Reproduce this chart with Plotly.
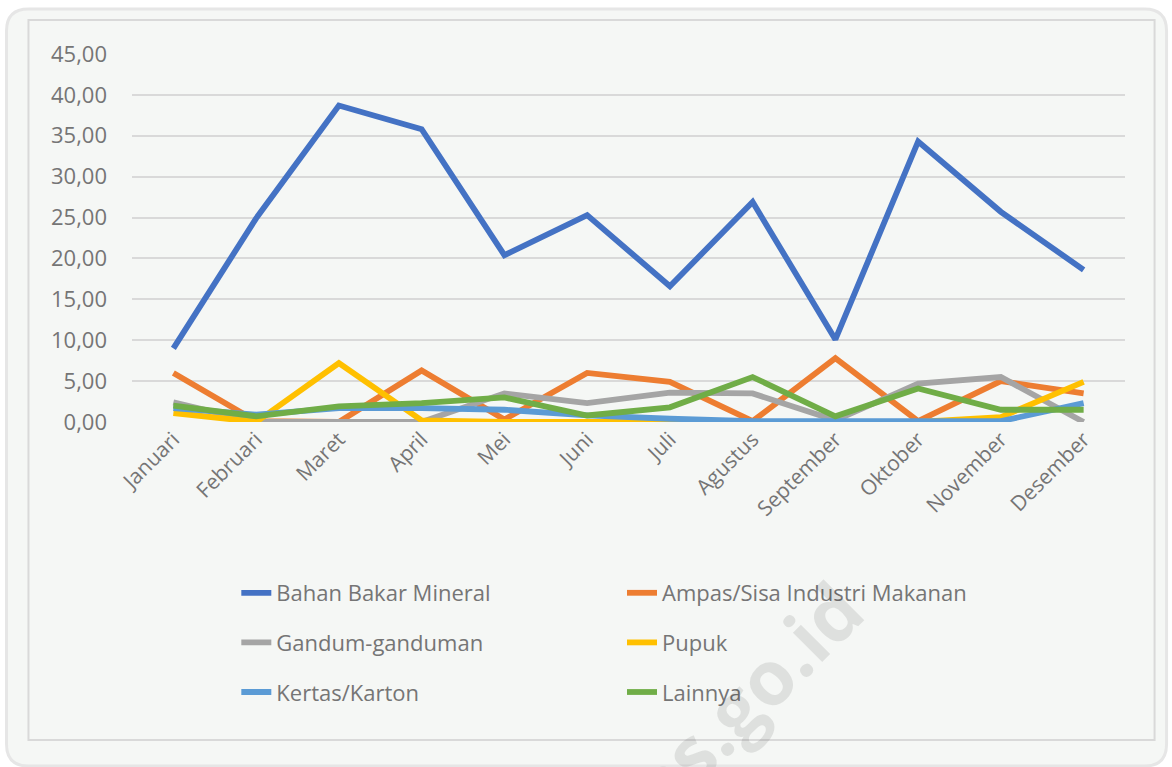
import plotly.graph_objects as go

months = ["Januari", "Februari", "Maret", "April", "Mei", "Juni", "Juli",
          "Agustus", "September", "Oktober", "November", "Desember"]
bahan_bakar = [9.0, 24.9, 38.7, 35.8, 20.4, 25.3, 16.6, 26.9, 10.1, 34.3, 25.7, 18.6]
ampas = [6.0, 0.1, 0.0, 6.3, 0.3, 6.0, 4.9, 0.1, 7.8, 0.1, 5.0, 3.5]
gandum = [2.4, 0.0, 0.0, 0.0, 3.5, 2.3, 3.6, 3.5, 0.2, 4.7, 5.5, 0.0]
pupuk = [1.1, 0.0, 7.2, 0.2, 0.0, 0.0, 0.0, 0.0, 0.0, 0.0, 0.6, 4.9]
kertas = [1.7, 0.9, 1.7, 1.7, 1.5, 0.8, 0.4, 0.1, 0.1, 0.1, 0.1, 2.3]
lainnya = [2.0, 0.7, 1.9, 2.3, 3.0, 0.8, 1.8, 5.5, 0.7, 4.1, 1.5, 1.5]

series = [
    ("Bahan Bakar Mineral", bahan_bakar, "#4472C4", "legend"),
    ("Ampas/Sisa Industri Makanan", ampas, "#ED7D31", "legend2"),
    ("Gandum-ganduman", gandum, "#A5A5A5", "legend"),
    ("Pupuk", pupuk, "#FFC000", "legend2"),
    ("Kertas/Karton", kertas, "#5B9BD5", "legend"),
    ("Lainnya", lainnya, "#70AD47", "legend2"),
]

W, H = 1172, 767
L, R, T, B = 131.6, 46.6, 54, 345
pw, ph = W - L - R, H - T - B


def px(x):
    return (x - L) / pw


def py(y):
    return (H - B - y) / ph


fig = go.Figure()
for name, vals, color, lg in series:
    fig.add_trace(go.Scatter(
        x=months, y=vals, name=name, mode="lines",
        line=dict(color=color, width=5.8),
        legend=lg, legendgroup=name,
    ))

txt = "#757575"
font_family = "Open Sans, Noto Sans, sans-serif"


def rounded(xa, ya, xb, yb, rad):
    ax, bx = px(xa), px(xb)
    ay, by = py(ya), py(yb)
    rx, ry = rad / pw, rad / ph
    return (f"M {ax+rx},{ay} L {bx-rx},{ay} Q {bx},{ay} {bx},{ay-ry} "
            f"L {bx},{by+ry} Q {bx},{by} {bx-rx},{by} L {ax+rx},{by} "
            f"Q {ax},{by} {ax},{by+ry} L {ax},{ay-ry} Q {ax},{ay} {ax+rx},{ay} Z")


fig.add_shape(type="path", xref="paper", yref="paper",
              path=rounded(6, 9, 1167, 766, 22),
              fillcolor="#F5F7F5", line=dict(color="#E6E6E6", width=3), layer="below")
fig.add_shape(type="rect", xref="paper", yref="paper",
              x0=px(28), x1=px(1155), y0=py(20), y1=py(740),
              fillcolor="rgba(0,0,0,0)", line=dict(color="#D9D9D9", width=2), layer="below")

fig.add_annotation(text="<b>bps.go.id</b>", xref="paper", yref="paper",
                   x=px(728), y=py(714), xanchor="center", yanchor="middle",
                   showarrow=False, textangle=-45,
                   font=dict(size=76, color="rgba(0,0,0,0.09)", family=font_family))

fig.update_layout(
    width=W, height=H,
    margin=dict(l=L, r=R, t=T, b=B),
    paper_bgcolor="white", plot_bgcolor="rgba(0,0,0,0)",
    separators=",.",
    font=dict(family=font_family, color=txt, size=21),
    xaxis=dict(tickangle=-45, showgrid=False, zeroline=False, showline=False,
               range=[-0.5, len(months) - 0.5],
               ticks="", tickfont=dict(size=21, color=txt)),
    yaxis=dict(range=[0, 45], dtick=5, tickformat=".2f", showgrid=True,
               gridcolor="#D9D9D9", gridwidth=1.5, zeroline=False, showline=False,
               ticks="", ticklabelstandoff=24, tickfont=dict(size=22, color=txt)),
    legend=dict(x=px(236), y=py(572), xanchor="left", yanchor="top",
                orientation="v", tracegroupgap=18, bgcolor="rgba(0,0,0,0)",
                font=dict(size=22, color=txt), itemwidth=30),
    legend2=dict(x=px(622), y=py(572), xanchor="left", yanchor="top",
                 orientation="v", tracegroupgap=18, bgcolor="rgba(0,0,0,0)",
                 font=dict(size=22, color=txt), itemwidth=30),
)

fig.write_html("out.html", config={"displayModeBar": False},
               post_script="document.body.style.margin='0';")
